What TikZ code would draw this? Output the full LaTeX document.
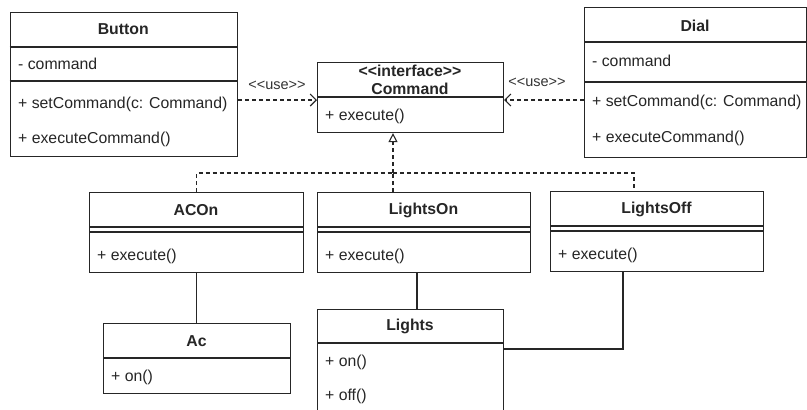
\documentclass[tikz,border=0pt]{standalone}
\usepackage{fontspec}
\setmainfont{Liberation Sans}
\usetikzlibrary{arrows.meta,calc}
\tikzset{
  classbox/.style={draw=black!85, line width=1.1pt, inner sep=0pt, anchor=north west, fill=white},
  divider/.style={draw=black!85, line width=1.1pt},
  ctitle/.style={inner sep=0pt, font=\fontsize{15.8}{18}\selectfont\bfseries, text=black!85},
  member/.style={inner sep=0pt, anchor=west, font=\fontsize{15.8}{18}\selectfont, text=black!85},
  uselabel/.style={inner sep=0pt, font=\fontsize{14.5}{16}\selectfont, text=black!80},
  usearrow/.style={draw=black!85, line width=1.1pt, dash pattern=on 4pt off 3pt, -{Straight Barb[length=6pt,width=12pt,line width=1.1pt]}},
  realize/.style={draw=black!85, line width=1.1pt, dash pattern=on 4pt off 3pt},
  assoc/.style={draw=black!85, line width=1.1pt}
}
\begin{document}
\begin{tikzpicture}[x=1pt,y=-1pt]
\useasboundingbox (0,0) rectangle (807,410);
\clip (0,0) rectangle (807,410);

% Button
\node[classbox, minimum width=227.5pt, minimum height=144pt] (button) at (9.5,12) {};
\draw[divider] (button.west |- 0,47) -- (button.east |- 0,47);
\draw[divider] (button.west |- 0,81) -- (button.east |- 0,81);
\node[ctitle] (buttont) at (123.25,29.5) {Button};
\node[member] (buttona) at (18,64) {- command};
\node[member] (buttonm1) at (18,104) {+ setCommand(c: Command)};
\node[member] (buttonm2) at (18,139) {+ executeCommand()};

% Command
\node[classbox, minimum width=186pt, minimum height=70pt] (command) at (317,62) {};
\draw[divider] (command.west |- 0,97) -- (command.east |- 0,97);
\node[ctitle] (commands) at (410,71) {{<}{<}interface{>}{>}};
\node[ctitle] (commandt) at (410,89) {Command};
\node[member] (commandm) at (325,116) {+ execute()};

% Dial
\node[classbox, minimum width=222pt, minimum height=150pt] (dial) at (584,7) {};
\draw[divider] (dial.west |- 0,42) -- (dial.east |- 0,42);
\draw[divider] (dial.west |- 0,82) -- (dial.east |- 0,82);
\node[ctitle] (dialt) at (695,25.5) {Dial};
\node[member] (diala) at (592,61) {- command};
\node[member] (dialm1) at (592,102) {+ setCommand(c: Command)};
\node[member] (dialm2) at (592,138) {+ executeCommand()};

% ACOn
\node[classbox, minimum width=214pt, minimum height=80pt] (acon) at (89,192) {};
\draw[divider] (acon.west |- 0,227) -- (acon.east |- 0,227);
\draw[divider] (acon.west |- 0,232) -- (acon.east |- 0,232);
\node[ctitle] (acont) at (196,210) {ACOn};
\node[member] (aconm) at (97,256) {+ execute()};

% LightsOn
\node[classbox, minimum width=213pt, minimum height=80pt] (lightson) at (317,192) {};
\draw[divider] (lightson.west |- 0,227) -- (lightson.east |- 0,227);
\draw[divider] (lightson.west |- 0,232) -- (lightson.east |- 0,232);
\node[ctitle] (lightsont) at (423.5,210) {LightsOn};
\node[member] (lightsonm) at (325,256) {+ execute()};

% LightsOff
\node[classbox, minimum width=213pt, minimum height=80pt] (lightsoff) at (550,191) {};
\draw[divider] (lightsoff.west |- 0,226) -- (lightsoff.east |- 0,226);
\draw[divider] (lightsoff.west |- 0,231) -- (lightsoff.east |- 0,231);
\node[ctitle] (lightsofft) at (656.5,209) {LightsOff};
\node[member] (lightsoffm) at (558,255) {+ execute()};

% Ac
\node[classbox, minimum width=187pt, minimum height=70pt] (ac) at (103,323) {};
\draw[divider] (ac.west |- 0,358) -- (ac.east |- 0,358);
\node[ctitle] (act) at (196.5,341) {Ac};
\node[member] (acm) at (111,377) {+ on()};

% Lights
\node[classbox, minimum width=186pt, minimum height=120pt] (lights) at (317,309) {};
\draw[divider] (lights.west |- 0,343) -- (lights.east |- 0,343);
\node[ctitle] (lightst) at (410,326) {Lights};
\node[member] (lightsm1) at (325,362) {+ on()};
\node[member] (lightsm2) at (325,396) {+ off()};

% use dependencies
\draw[usearrow] (button.east |- 0,100) -- (command.west |- 0,100);
\node[uselabel] (use1) at (277,85) {{<}{<}use{>}{>}};
\draw[usearrow] (dial.west |- 0,100) -- (command.east |- 0,100);
\node[uselabel] (use2) at (537,82) {{<}{<}use{>}{>}};

% realization
\coordinate (rj) at (393,173);
\draw[realize] (acon.north) |- (rj);
\draw[realize] (rj) -| ($(lightsoff.north west)+(84,0)$);
\draw[realize] (lightson.north -| rj) -- (rj);
\draw[realize, -{Triangle[open, length=9pt, width=9pt, line width=1.1pt]}] (rj) -- (command.south -| rj);

% associations
\draw[assoc] (acon.south) -- (ac.north -| acon.south);
\draw[assoc] (lightson.south -| 417,0) -- (lights.north -| 417,0);
\draw[assoc] ($(lightsoff.south west)+(73,0)$) |- (lights.east |- 0,349);
\end{tikzpicture}
\end{document}
